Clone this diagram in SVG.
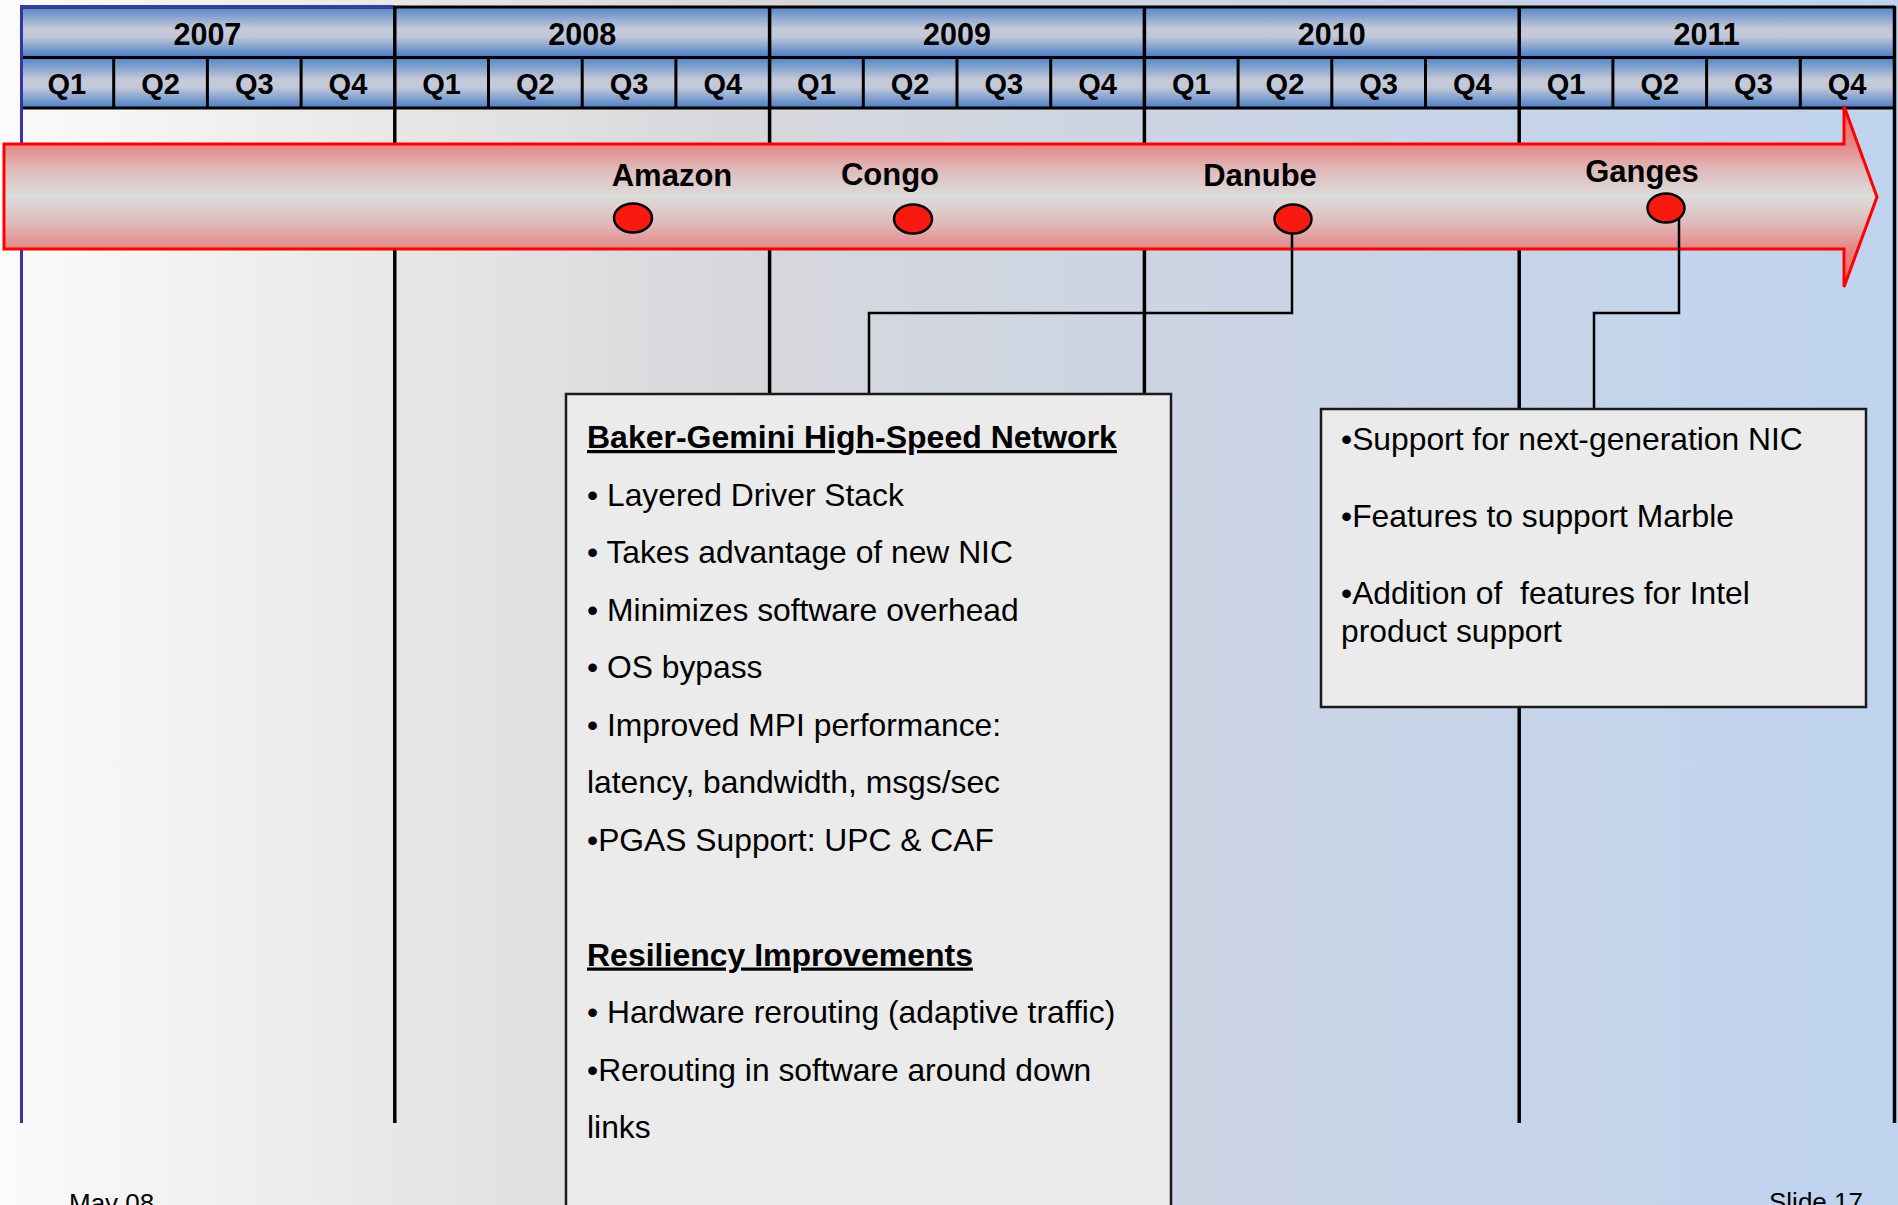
<svg xmlns="http://www.w3.org/2000/svg" width="1898" height="1205" viewBox="0 0 1898 1205">
<defs>
<linearGradient id="bg" x1="0" y1="0" x2="1898" y2="0" gradientUnits="userSpaceOnUse">
<stop offset="0" stop-color="#fbfbfb"/>
<stop offset="0.2" stop-color="#e8e8e8"/>
<stop offset="0.38" stop-color="#d7d8db"/>
<stop offset="0.6" stop-color="#cdd5e3"/>
<stop offset="1" stop-color="#bfd3ef"/>
</linearGradient>
<linearGradient id="hdr" x1="0" y1="0" x2="0" y2="1">
<stop offset="0" stop-color="#4f82c8"/>
<stop offset="0.45" stop-color="#c6cad8"/>
<stop offset="0.6" stop-color="#c2c8d9"/>
<stop offset="1" stop-color="#4a7ec6"/>
</linearGradient>
<linearGradient id="arw" x1="0" y1="106" x2="0" y2="287" gradientUnits="userSpaceOnUse">
<stop offset="0" stop-color="#e86666"/>
<stop offset="0.21" stop-color="#e68686"/>
<stop offset="0.36" stop-color="#e0bcbc"/>
<stop offset="0.5" stop-color="#dcdcdc"/>
<stop offset="0.64" stop-color="#e0bcbc"/>
<stop offset="0.79" stop-color="#e68686"/>
<stop offset="1" stop-color="#e86666"/>
</linearGradient>
<style>
.yr{font-family:"Liberation Sans",Arial,sans-serif;font-weight:bold;font-size:30.5px;text-anchor:middle;fill:#000}
.q{font-family:"Liberation Sans",Arial,sans-serif;font-weight:bold;font-size:29px;text-anchor:middle;fill:#000}
.ms{font-family:"Liberation Sans",Arial,sans-serif;font-weight:bold;font-size:31px;text-anchor:middle;fill:#000}
.tx{font-family:"Liberation Sans",Arial,sans-serif;font-size:31.8px;fill:#000}
.hd{font-family:"Liberation Sans",Arial,sans-serif;font-size:32px;font-weight:bold;text-decoration:underline;fill:#000}
.ft{font-family:"Liberation Sans",Arial,sans-serif;font-size:26px;fill:#000}
.grid{stroke:#000;fill:none}
.dot{fill:#f81a10;stroke:#000;stroke-width:2.5}
.conn{stroke:#000;stroke-width:2.5;fill:none}
.box{fill:#ebebeb;stroke:#1a1a1a;stroke-width:2.5}
</style>
</defs>

<rect x="0" y="0" width="1898" height="1205" fill="url(#bg)"/>

<g id="header">
<rect x="20" y="6" width="1874" height="51" fill="url(#hdr)"/>
<rect x="20" y="57" width="1874" height="51" fill="url(#hdr)"/>
<g class="grid" stroke-width="3">
<line x1="20" y1="7" x2="1895" y2="7"/>
<line x1="20" y1="57.5" x2="1895" y2="57.5"/>
<line x1="20" y1="108" x2="1895" y2="108"/>
<path d="M113.7,57V108M207.4,57V108M301.1,57V108M488.5,57V108M582.2,57V108M675.9,57V108M863.3,57V108M957,57V108M1050.7,57V108M1238.1,57V108M1331.8,57V108M1425.5,57V108M1612.9,57V108M1706.6,57V108M1800.3,57V108"/>
</g>
<line x1="20" y1="6.5" x2="394" y2="6.5" stroke="#3a3aa8" stroke-width="3"/>
<text class="yr" x="207.4" y="45">2007</text>
<text class="yr" x="582.2" y="45">2008</text>
<text class="yr" x="957" y="45">2009</text>
<text class="yr" x="1331.8" y="45">2010</text>
<text class="yr" x="1706.6" y="45">2011</text>
<g class="q">
<text x="66.85" y="94">Q1</text><text x="160.55" y="94">Q2</text><text x="254.25" y="94">Q3</text><text x="347.95" y="94">Q4</text>
<text x="441.65" y="94">Q1</text><text x="535.35" y="94">Q2</text><text x="629.05" y="94">Q3</text><text x="722.75" y="94">Q4</text>
<text x="816.45" y="94">Q1</text><text x="910.15" y="94">Q2</text><text x="1003.85" y="94">Q3</text><text x="1097.55" y="94">Q4</text>
<text x="1191.25" y="94">Q1</text><text x="1284.95" y="94">Q2</text><text x="1378.65" y="94">Q3</text><text x="1472.35" y="94">Q4</text>
<text x="1566.05" y="94">Q1</text><text x="1659.75" y="94">Q2</text><text x="1753.45" y="94">Q3</text><text x="1847.15" y="94">Q4</text>
</g>
</g>

<g id="year-lines" class="grid" stroke-width="3.5">
<line x1="394.8" y1="6" x2="394.8" y2="1123"/>
<line x1="769.6" y1="6" x2="769.6" y2="1123"/>
<line x1="1144.4" y1="6" x2="1144.4" y2="1123"/>
<line x1="1519.2" y1="6" x2="1519.2" y2="1123"/>
<line x1="1894.5" y1="6" x2="1894.5" y2="1123"/>
<line x1="21.5" y1="5" x2="21.5" y2="1123" stroke="#3535a5" stroke-width="3"/>
</g>

<g id="timeline-arrow">
<path d="M4,144 H1844 V106 L1877,197 L1844,287 V249 H4 Z" fill="url(#arw)" stroke="#ff0000" stroke-width="3"/>
</g>

<g id="connectors">
<polyline class="conn" points="1292,225 1292,313 869,313 869,394"/>
<polyline class="conn" points="1679,215 1679,313 1594,313 1594,409"/>
</g>

<g id="amazon">
<ellipse class="dot" cx="633" cy="218" rx="19" ry="14.5"/>
<text class="ms" x="672" y="186">Amazon</text>
</g>
<g id="congo">
<ellipse class="dot" cx="913" cy="219" rx="19" ry="14.5"/>
<text class="ms" x="890" y="185">Congo</text>
</g>
<g id="danube">
<ellipse class="dot" cx="1293" cy="219" rx="18.5" ry="14.5"/>
<text class="ms" x="1260" y="186">Danube</text>
</g>
<g id="ganges">
<ellipse class="dot" cx="1666" cy="208" rx="18.5" ry="14.5"/>
<text class="ms" x="1642" y="182">Ganges</text>
</g>

<g id="gemini-box">
<rect class="box" x="566" y="394" width="605" height="900"/>
<text class="hd" x="587" y="448">Baker-Gemini High-Speed Network</text>
<text class="tx" x="587" y="505.5">• Layered Driver Stack</text>
<text class="tx" x="587" y="563">• Takes advantage of new NIC</text>
<text class="tx" x="587" y="620.5">• Minimizes software overhead</text>
<text class="tx" x="587" y="678">• OS bypass</text>
<text class="tx" x="587" y="735.5">• Improved MPI performance:</text>
<text class="tx" x="587" y="793">latency, bandwidth, msgs/sec</text>
<text class="tx" x="587" y="850.5">•PGAS Support: UPC &amp; CAF</text>
<text class="hd" x="587" y="965.5">Resiliency Improvements</text>
<text class="tx" x="587" y="1023">• Hardware rerouting (adaptive traffic)</text>
<text class="tx" x="587" y="1080.5">•Rerouting in software around down</text>
<text class="tx" x="587" y="1138">links</text>
</g>

<g id="marble-box">
<rect class="box" x="1321" y="409" width="545" height="298"/>
<text class="tx" x="1341" y="450">•Support for next-generation NIC</text>
<text class="tx" x="1341" y="527">•Features to support Marble</text>
<text class="tx" x="1341" y="604" xml:space="preserve">•Addition of  features for Intel</text>
<text class="tx" x="1341" y="641.7">product support</text>
</g>

<g id="footer">
<text class="ft" x="69" y="1212">May 08</text>
<text class="ft" x="1769" y="1211">Slide 17</text>
</g>
</svg>
